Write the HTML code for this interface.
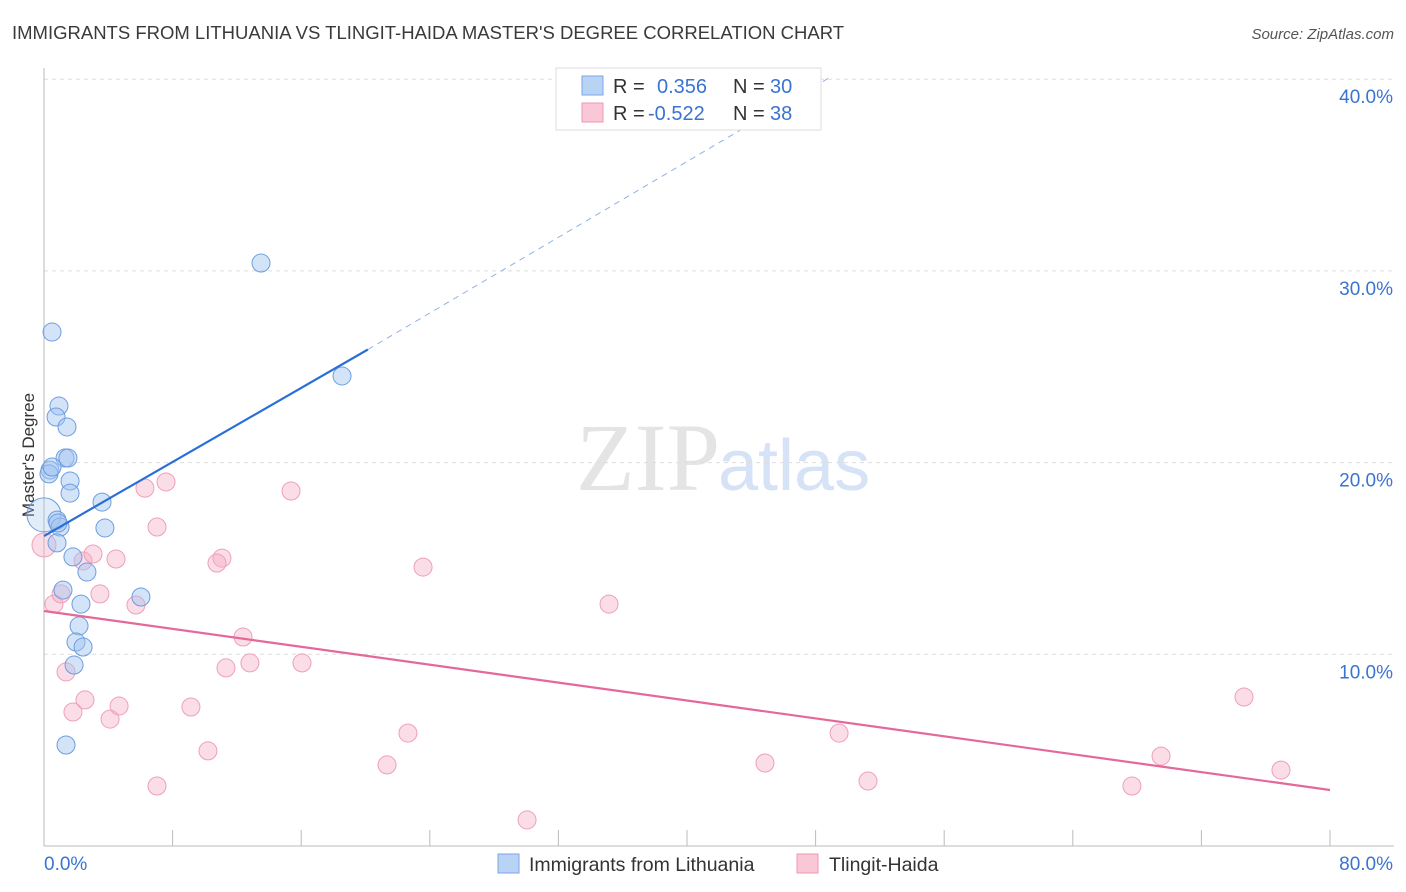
<!DOCTYPE html>
<html><head><meta charset="utf-8"><style>
body{margin:0;background:#fff;font-family:"Liberation Sans",sans-serif}
svg{display:block}
</style></head><body>
<svg id="c" width="1406" height="892">
<text x="12" y="39" font-size="18.5" fill="#3a3a3a">IMMIGRANTS FROM LITHUANIA VS TLINGIT-HAIDA MASTER'S DEGREE CORRELATION CHART</text>
<text x="1394" y="39" font-size="15" fill="#555" font-style="italic" text-anchor="end">Source: ZipAtlas.com</text>
<text x="720" y="490" font-size="96" fill="#e4e4e4" text-anchor="end" font-family="Liberation Serif,serif">ZIP</text>
<text x="718" y="490" font-size="72" fill="#d6e3f6">atlas</text>
<text transform="translate(34,455) rotate(-90)" font-size="17" fill="#333" text-anchor="middle">Master's Degree</text>
<g id="grid"></g><g id="pts"></g><g id="lines"></g>
<g>
<rect x="556" y="68" width="265" height="62" fill="#fff" stroke="#ddd"/>
<rect x="582" y="76" width="21" height="19" fill="#b9d3f5" stroke="#7aa6e6"/>
<rect x="582" y="103" width="21" height="19" fill="#fac7d6" stroke="#ec9ab4"/>
<text x="613" y="93" font-size="20" fill="#333">R =</text><text x="657" y="93" font-size="20" fill="#3a74d0">0.356</text>
<text x="733" y="93" font-size="20" fill="#333">N =</text><text x="770" y="93" font-size="20" fill="#3a74d0">30</text>
<text x="613" y="120" font-size="20" fill="#333">R =</text><text x="648" y="120" font-size="20" fill="#3a74d0">-0.522</text>
<text x="733" y="120" font-size="20" fill="#333">N =</text><text x="770" y="120" font-size="20" fill="#3a74d0">38</text>
</g>
<g>
<rect x="498" y="854" width="21" height="19" fill="#b9d3f5" stroke="#7aa6e6"/>
<text x="529" y="871" font-size="19.5" fill="#333">Immigrants from Lithuania</text>
<rect x="797" y="854" width="21" height="19" fill="#fac7d6" stroke="#ec9ab4"/>
<text x="829" y="871" font-size="19.5" fill="#333">Tlingit-Haida</text>
</g>
</svg>
<script>
const blueX=[13.5,0.5,18.54,0.93,0.75,1.43,1.31,1.49,0.37,0.31,1.62,1.62,3.61,0.0,0.81,1.0,3.79,0.81,1.8,2.67,6.03,1.18,2.3,2.18,1.99,2.43,1.87,1.37,0.5,0.87];
const blueY=[30.41,26.81,24.52,22.95,22.38,21.86,20.24,20.24,19.61,19.41,19.04,18.41,17.94,17.27,17.0,16.64,16.59,15.81,15.08,14.29,12.99,13.35,12.62,11.48,10.64,10.38,9.44,5.27,19.77,16.85];
const pinkX=[0,0.62,1.06,2.43,3.05,4.48,3.48,5.72,6.28,7.59,7.03,15.37,11.07,10.76,12.38,11.32,12.81,16.05,23.58,35.15,1.37,1.8,2.55,4.11,4.67,9.14,10.2,7.03,21.34,22.64,30.05,44.85,49.46,51.26,67.68,69.49,74.65,76.95];
const pinkY=[15.7,12.62,13.15,14.87,15.23,14.97,13.15,12.57,18.67,18.99,16.64,18.52,15.02,14.76,10.9,9.29,9.55,9.55,14.55,12.62,9.08,6.99,7.62,6.62,7.3,7.25,4.96,3.13,4.23,5.89,1.36,4.33,5.89,3.39,3.13,4.69,7.77,3.96];
const yTicks=[10,20,30,40];
const yTickLabels=["10.0%","20.0%","30.0%","40.0%"];
const xTicks=[0,8,16,24,32,40,48,56,64,72,80];
const blueTrend=[[0,16.17],[20.15,25.9],[48.9,40.1]];
const pinkTrend=[[0,12.26],[80,2.92]];
const NS="http://www.w3.org/2000/svg";
const sx=v=>44+v*16.075, sy=v=>846-v*19.17;
function mk(tag,at,parent){const e=document.createElementNS(NS,tag);for(const k in at)e.setAttribute(k,at[k]);document.getElementById(parent).appendChild(e);return e;}
yTicks.forEach((t,i)=>{
 const l=mk('line',{x1:44,x2:1394,y1:sy(t),y2:sy(t),stroke:'#ddd','stroke-dasharray':'4,4'},'grid');
 
 
 const tx=mk('text',{x:1393,y:sy(t)+24,'font-size':19,fill:'#3a74d0','text-anchor':'end'},'grid');tx.textContent=yTickLabels[i];
 
 
});
const ax=mk('line',{x1:44,x2:1394,y1:846,y2:846,stroke:'#bbb'},'grid');


const ay=mk('line',{x1:44,x2:44,y1:68,y2:846,stroke:'#bbb'},'grid');


xTicks.forEach(t=>{const l=mk('line',{x1:sx(t),x2:sx(t),y1:830,y2:846,stroke:'#bbb'},'grid');
 
 });
const x0=mk('text',{x:44,y:870,'font-size':19,fill:'#3a74d0'},'grid');x0.textContent='0.0%';


const x1=mk('text',{x:1393,y:870,'font-size':19,fill:'#3a74d0','text-anchor':'end'},'grid');x1.textContent='80.0%';


pinkX.forEach((v,i)=>{const c=mk('circle',{cx:sx(v),cy:sy(pinkY[i]),r:i==0?12:9,fill:'rgba(246,170,195,0.4)',stroke:'#eea0b8','stroke-width':1},'pts');
 
 });
blueX.forEach((v,i)=>{const c=mk('circle',{cx:sx(v),cy:sy(blueY[i]),r:i==13?17:9,fill:i==13?'rgba(160,195,240,0.3)':'rgba(160,195,240,0.45)',stroke:'#6d9de0','stroke-width':1},'pts');
 
 });
const b1=mk('line',{x1:sx(blueTrend[0][0]),y1:sy(blueTrend[0][1]),x2:sx(blueTrend[1][0]),y2:sy(blueTrend[1][1]),stroke:'#2a6fd6','stroke-width':2.2},'lines');


const b2=mk('line',{x1:sx(blueTrend[1][0]),y1:sy(blueTrend[1][1]),x2:sx(blueTrend[2][0]),y2:sy(blueTrend[2][1]),stroke:'#8fb2e6','stroke-width':1,'stroke-dasharray':'6,5'},'lines');


const p1=mk('line',{x1:sx(pinkTrend[0][0]),y1:sy(pinkTrend[0][1]),x2:sx(pinkTrend[1][0]),y2:sy(pinkTrend[1][1]),stroke:'#e5689a','stroke-width':2.2},'lines');


</script>
</body></html>
